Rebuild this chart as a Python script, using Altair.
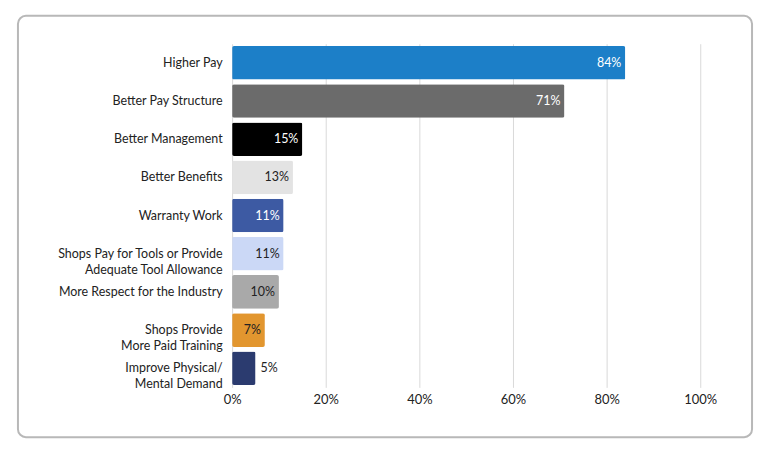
import altair as alt
import pandas as pd

categories = ["Higher Pay", "Better Pay Structure", "Better Management", "Better Benefits",
              "Warranty Work", "Shops Pay for Tools or Provide\nAdequate Tool Allowance",
              "More Respect for the Industry", "Shops Provide\nMore Paid Training",
              "Improve Physical/\nMental Demand"]
values = [84, 71, 15, 13, 11, 11, 10, 7, 5]
colors = ["#1c7fc8", "#6b6b6b", "#000000", "#e3e3e3", "#3d5aa3", "#cbd8f6", "#a9a9a9", "#e2962f", "#2b3b6f"]
text_colors = ["white", "white", "white", "#222", "white", "#222", "#222", "#222", "#222"]

df = pd.DataFrame({"cat": categories, "v": values, "c": colors, "tc": text_colors})
df["label"] = df["v"].astype(str) + "%"
df["inside"] = df["v"] >= 6

y = alt.Y("cat:N", sort=categories, title=None,
          scale=alt.Scale(paddingInner=0.12, paddingOuter=0.06),
          axis=alt.Axis(labelExpr="split(datum.label, '\\n')", labelFontSize=12.5, labelColor="#222",
                        labelFont="Lato", ticks=False, domain=False, labelPadding=10, labelLineHeight=16))
y2 = alt.Y("cat:N", sort=categories)
x = alt.X("v:Q", title=None, scale=alt.Scale(domain=[0, 100]),
          axis=alt.Axis(values=[0, 20, 40, 60, 80, 100], format="d", labelExpr="datum.value + '%'",
                        labelFontSize=13, labelColor="#222", labelFont="Lato", ticks=False, domain=False,
                        labelFlush=False, labelAlign="center",
                        grid=True, gridColor="#d9d9d9", labelPadding=6))

bars = alt.Chart(df).mark_bar(cornerRadius=2).encode(x=x, y=y, color=alt.Color("c:N", scale=None))
inside = alt.Chart(df).transform_filter("datum.inside").mark_text(
    align="right", dx=-4, fontSize=12.5, font="Lato").encode(
    x="v:Q", y=y2, text="label:N", color=alt.Color("tc:N", scale=None))
outside = alt.Chart(df).transform_filter("!datum.inside").mark_text(
    align="left", dx=5, fontSize=12.5, font="Lato", color="#222").encode(
    x="v:Q", y=y2, text="label:N")
border = alt.Chart(pd.DataFrame({"a": [0]})).mark_rect(
    fill=None, stroke="#b8b8b8", strokeWidth=2, cornerRadius=8).encode(
    x=alt.value(-215), x2=alt.value(522), y=alt.value(-28), y2=alt.value(395))

chart = alt.layer(bars, inside, outside, border).properties(
    width=470, height=345,
    autosize=alt.AutoSizeParams(type="none"),
    padding={"left": 225, "top": 35, "right": 60, "bottom": 58},
    background="white"
).configure_view(stroke=None)

chart.save("out.html", embed_options={"renderer": "svg", "actions": False})
